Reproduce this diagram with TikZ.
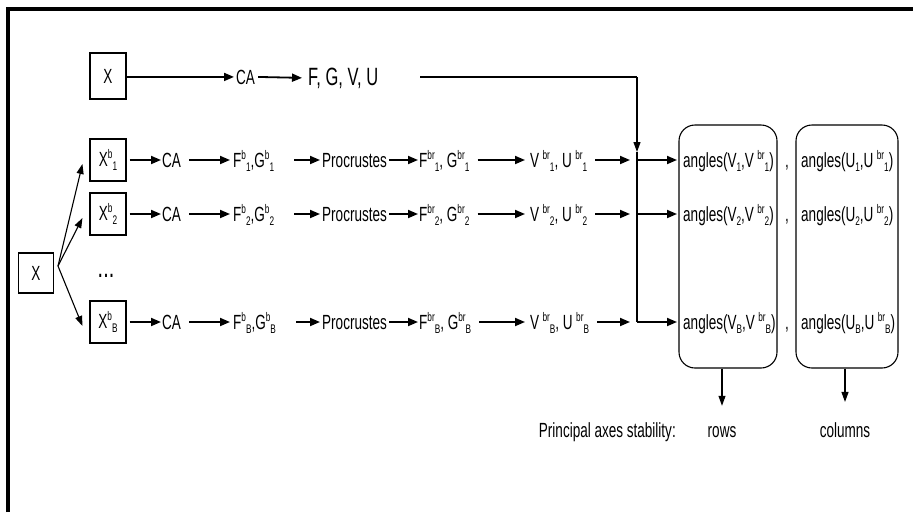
\documentclass[tikz,border=0pt]{standalone}
\usepackage{fontspec}
\setmainfont[FakeStretch=0.66]{Liberation Sans}
\usetikzlibrary{arrows.meta,calc}
\newcommand{\smf}{\fontsize{12.5}{13}\selectfont}
\newcommand{\sps}[2]{\raisebox{7.5pt}{\smf #1}\raisebox{-4.5pt}{\smf #2}}
\newcommand{\subx}[1]{\raisebox{-4.5pt}{\smf #1}}
\newcommand{\mainf}{\fontsize{20.5}{22}\selectfont}
\begin{document}
\begin{tikzpicture}[x=1pt,y=-1pt,
  txt/.style={inner sep=0pt, anchor=base west, font=\mainf},
  ctxt/.style={inner sep=0pt, anchor=base, font=\mainf},
  bx/.style={draw, line width=1.1pt, minimum width=36pt, minimum height=42pt, inner sep=0pt, font=\mainf},
  rbox/.style={draw, line width=1.1pt, rounded corners=16pt, inner sep=0pt},
  arr/.style={line width=1.8pt, -{Triangle[length=10pt,width=8pt]}},
  tarr/.style={line width=1.1pt, -{Triangle[length=10pt,width=7pt]}},
  pline/.style={line width=1.1pt}
]
\useasboundingbox (0,0) rectangle (913,512);
\fill[white] (0,0) rectangle (913,512);
% frame (left and top)
\draw[line width=4.5pt] (8,512) -- (8,9) -- (913,9);

% top row
\node[bx, minimum height=46pt] (x0) at (108,76) {X};
\node[txt] (ca0) at (236,84) {CA};
\node[txt, font=\fontsize{25}{27}\selectfont] (fgvu0) at (308,85) {F, G, V, U};
\coordinate (t0) at (420,77);
\coordinate (j0) at (637,77);
\coordinate (jt) at (637,152);
\coordinate (jB) at (637,322);
\draw[arr] (x0.east |- 0,77) -- ($(ca0.west)+(-2,0)$ |- 0,77);
\draw[arr] ($(ca0.east)+(3,0)$ |- 0,77) -- ($(fgvu0.west)+(-6,0)$ |- 0,77);
\draw[pline] (t0) -- (j0);
\draw[tarr] (j0) -- (jt);
\draw[pline] (jt) -- (jB);

% left X and fan
\node[bx, minimum width=35pt, minimum height=40pt] (xl) at (36,273) {X};
\coordinate (fan) at (58,266);
\node[ctxt, font=\fontsize{30}{30}\selectfont] (dots) at (106,277) {...};

% rows
\foreach \i/\s/\y in {1/1/160, 2/2/214, 3/B/322}{
  \node[bx] (xb\i) at (108,\y) {X\sps{b}{\s}};
  \node[txt] (ca\i) at (162,\y+7) {CA};
  \node[txt] (fg\i) at (233,\y+7) {F\sps{b}{\s},G\sps{b}{\s}};
  \node[txt] (pr\i) at (322,\y+7) {Procrustes};
  \node[txt] (fb\i) at (419,\y+7) {F\sps{br}{\s}, G\sps{br}{\s}};
  \node[txt] (vu\i) at (530,\y+7) {V\,\sps{br}{\s}, U\,\sps{br}{\s}};
  \coordinate (e\i) at (630,\y);
  \coordinate (s\i) at (637,\y);
  \node[txt] (av\i) at (683,\y+7) {angles(V\subx{\s},V\,\sps{br}{\s})};
  \node[txt] (cm\i) at (785,\y+7) {,};
  \node[txt] (au\i) at (801,\y+7) {angles(U\subx{\s},U\,\sps{br}{\s})};
  \draw[tarr] (fan) -- ($(xb\i.west)+(-7,4)$);
  \draw[arr] ($(xb\i.east)+(3,0)$) -- ($(ca\i.west |- 0,\y)+(-1,0)$);
  \draw[arr] ($(ca\i.east |- 0,\y)+(8,0)$) -- ($(fg\i.west |- 0,\y)+(-3,0)$);
  \draw[arr] ($(fg\i.east |- 0,\y)+(20,0)$) -- ($(pr\i.west |- 0,\y)+(-2,0)$);
  \draw[arr] ($(pr\i.east |- 0,\y)+(2,0)$) -- ($(fb\i.west |- 0,\y)+(-1,0)$);
  \draw[arr] ($(fb\i.east |- 0,\y)+(8,0)$) -- ($(vu\i.west |- 0,\y)+(-5,0)$);
  \draw[arr] ($(vu\i.east |- 0,\y)+(8,0)$) -- (e\i);
  \draw[arr] (s\i) -- ($(av\i.west |- 0,\y)+(-6,0)$);
}

% rounded boxes
\node[rbox, minimum width=98pt, minimum height=243pt] (rows) at (728,246.5) {};
\node[rbox, minimum width=102pt, minimum height=243pt] (cols) at (847,246.5) {};

% outputs
\node[ctxt] (lrows) at (722,437) {rows};
\node[ctxt] (lcols) at (845,437) {columns};
\node[inner sep=0pt, anchor=base east, font=\mainf] (pas) at (676,437) {Principal axes stability:};
\draw[tarr] (rows.south -| lrows) -- ($(lrows.north)+(0,-20)$);
\draw[tarr] (cols.south -| lcols) -- ($(lcols.north)+(0,-20)$);
\end{tikzpicture}
\end{document}
